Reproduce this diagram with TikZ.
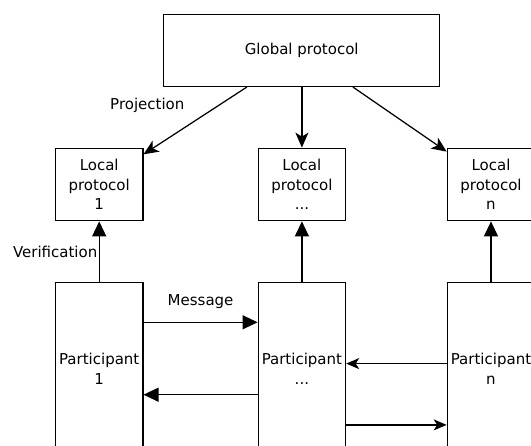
\documentclass[tikz,border=0pt]{standalone}
\usepackage{fontspec}
\setmainfont{DejaVu Sans}
\usetikzlibrary{arrows.meta}
\begin{document}
\begin{tikzpicture}[x=1pt,y=-1pt,
  box/.style={draw,line width=1.25pt,rectangle,inner sep=0pt,align=center,
    font=\fontsize{15}{19.5}\selectfont},
  lbl/.style={inner sep=0pt,font=\fontsize{15}{19.5}\selectfont},
  proj/.style={line width=1.25pt,-{Stealth[length=15pt,width=13pt,inset=4pt]}},
  tri/.style={line width=1.25pt,-{Triangle[length=15pt,width=14pt]}},
  msg/.style={line width=1.25pt,-{Stealth[length=13pt,width=11pt,inset=3.5pt]}}]
\useasboundingbox (0,0) rectangle (531,446);
\clip (0,0) rectangle (531,446);
\node[box,minimum width=275.7pt,minimum height=72.2pt] (g) at (301.7,50.3) {Global protocol};
\node[box,minimum width=87.4pt,minimum height=72.5pt] (l1) at (99.2,184.5) {Local\\protocol\\1};
\node[box,minimum width=87.4pt,minimum height=72.5pt] (l2) at (301.9,184.5) {Local\\protocol\\...};
\node[box,minimum width=87.4pt,minimum height=72.5pt] (l3) at (491,184.5) {Local\\protocol\\n};
\node[box,minimum width=87.4pt,minimum height=172.6pt] (p1) at (99.2,368.6) {Participant\\1};
\node[box,minimum width=87.4pt,minimum height=172.6pt] (p2) at (301.9,368.6) {Participant\\...};
\node[box,minimum width=87.4pt,minimum height=172.6pt] (p3) at (491,368.6) {Participant\\n};
\node[lbl] (tp) at (147.3,105.7) {Projection};
\node[lbl,anchor=east] (tv) at (97.5,252.2) {Verification};
\node[lbl] (tm) at (200.6,301.6) {Message};
\draw[proj] ([xshift=-54.8pt]g.south) -- ([yshift=-6.7pt]l1.north east);
\draw[proj] (g.south -| l2.north) -- (l2.north);
\draw[proj] ([xshift=51.2pt]g.south) -- ([yshift=-4pt]l3.north west);
\draw[tri] (p1.north) -- (l1.south);
\draw[tri] (p2.north) -- (l2.south);
\draw[tri] (p3.north) -- (l3.south);
\draw[tri] ([yshift=46.3pt]p1.east) -- ([yshift=46.3pt]p2.west);
\draw[tri] ([yshift=-26.1pt]p2.west) -- ([yshift=-26.1pt]p1.east);
\draw[msg] ([yshift=5pt]p3.west) -- ([yshift=5pt]p2.east);
\draw[msg] ([yshift=-56.3pt]p2.east) -- ([yshift=-56.3pt]p3.west);
\end{tikzpicture}
\end{document}
